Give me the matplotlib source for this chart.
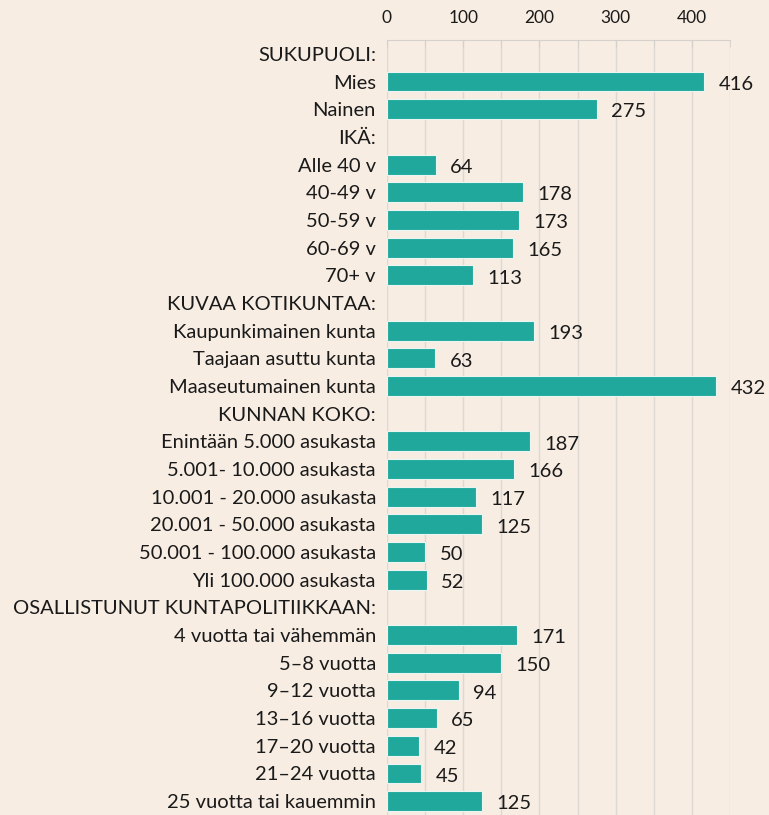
import numpy as np
import matplotlib.pyplot as plt

labels = ['SUKUPUOLI:', 'Mies', 'Nainen', 'IKÄ:', 'Alle 40 v', '40-49 v', '50-59 v',
          '60-69 v', '70+ v', 'KUVAA KOTIKUNTAA:', 'Kaupunkimainen kunta',
          'Taajaan asuttu kunta', 'Maaseutumainen kunta', 'KUNNAN KOKO:',
          'Enintään 5.000 asukasta', '5.001- 10.000 asukasta', '10.001 - 20.000 asukasta',
          '20.001 - 50.000 asukasta', '50.001 - 100.000 asukasta', 'Yli 100.000 asukasta',
          'OSALLISTUNUT KUNTAPOLITIIKKAAN:', '4 vuotta tai vähemmän', '5–8 vuotta',
          '9–12 vuotta', '13–16 vuotta', '17–20 vuotta', '21–24 vuotta',
          '25 vuotta tai kauemmin']
values = [None, 416, 275, None, 64, 178, 173, 165, 113, None, 193, 63, 432, None,
          187, 166, 117, 125, 50, 52, None, 171, 150, 94, 65, 42, 45, 125]

bg = '#F7EDE3'
teal = '#20A89C'

plt.rcParams['font.family'] = ['Lato', 'DejaVu Sans']

fig = plt.figure(figsize=(7.69, 8.15), dpi=100, facecolor=bg)
ax = fig.add_axes([387 / 769, 0.0, (730 - 387) / 769, (815 - 40) / 815])
ax.set_facecolor(bg)

y = np.arange(len(labels))
for i, v in enumerate(values):
    if v is None:
        continue
    ax.barh(y[i], v, height=0.72, color=teal, edgecolor='#EAF5F2', linewidth=0.8, zorder=3)
    ax.text(v + 19, y[i] + 0.1, str(v), va='center', ha='left', fontsize=14.5, color='#1a1a1a')

ax.set_yticks(y)
ax.set_yticklabels(labels, fontsize=14.5, color='#1a1a1a')
for t in ax.get_yticklabels():
    t.set_y(t.get_position()[1])
ax.set_ylim(len(labels) - 0.5, -0.5)
ax.set_xlim(0, 450)
ax.tick_params(axis='y', length=0, pad=8)

ax.xaxis.tick_top()
ax.set_xticks([0, 100, 200, 300, 400])
ax.set_xticks(np.arange(0, 451, 50), minor=True)
ax.tick_params(axis='x', which='both', length=5, color='#D5D0CB', labelsize=12.5,
               labelcolor='#1a1a1a', pad=10, direction='in')
ax.grid(axis='x', which='both', color='#DDD8D3', linewidth=1, zorder=0)

for s in ['bottom', 'right', 'left']:
    ax.spines[s].set_visible(False)
ax.spines['top'].set_color('#D5D0CB')

fig.savefig('out.png', dpi=100, facecolor=bg)
